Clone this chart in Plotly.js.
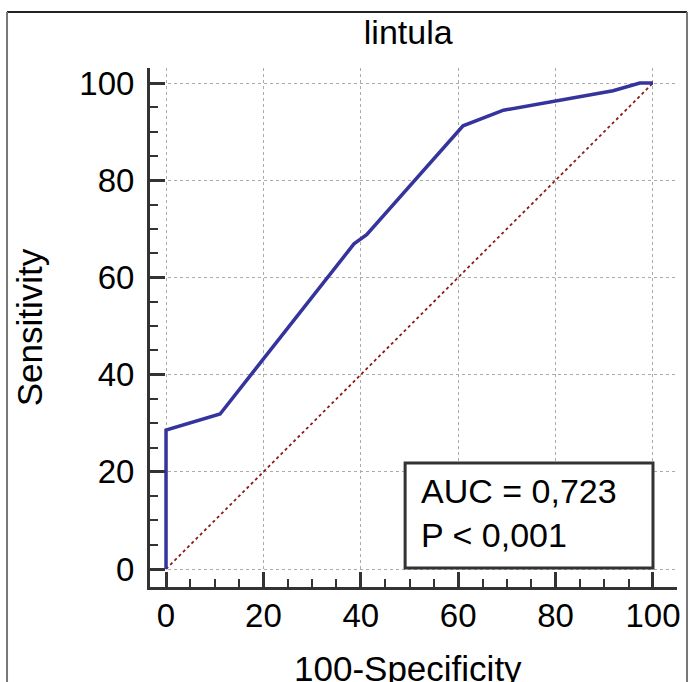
<!DOCTYPE html>
<html>
<head>
<meta charset="utf-8">
<script src="https://cdn.plot.ly/plotly-3.0.1.min.js"></script>
<style>html,body{margin:0;padding:0;background:#fff;}#chart{width:692px;height:682px;}</style>
</head>
<body>
<div id="chart"></div>
<script>
// ROC curve values (100-Specificity, Sensitivity)
var rocX = [0, 0, 11.1, 38.6, 41.2, 61.0, 69.3, 91.8, 97.3, 100];
var rocY = [0, 28.6, 31.9, 66.9, 68.8, 91.2, 94.4, 98.4, 100, 100];
// reference diagonal
var diagX = [0, 100];
var diagY = [0, 100];
var tickVals = [0, 20, 40, 60, 80, 100];
var tickText = ["0", "20", "40", "60", "80", "100"];
var chartTitle = "lintula";
var xTitle = "100-Specificity";
var yTitle = "Sensitivity";
var statLines = ["AUC = 0,723", "P &lt; 0,001"];

var FONT = "Liberation Sans, Arial, sans-serif";

var traces = [
  {x: diagX, y: diagY, mode: "lines", type: "scatter", hoverinfo: "skip",
   line: {color: "#8b1a1a", width: 1.8, dash: "dot"}},
  {x: rocX, y: rocY, mode: "lines", type: "scatter",
   line: {color: "#34349c", width: 3.5}}
];

var axisCommon = {
  showline: true, linecolor: "#333333", linewidth: 3, mirror: false,
  ticks: "inside", ticklen: 15, tickwidth: 3, tickcolor: "#333333",
  tickvals: tickVals, ticktext: tickText,
  tickfont: {family: FONT, size: 33, color: "#000"},
  showgrid: true, gridcolor: "#ababab", gridwidth: 1, griddash: "dot",
  zeroline: false, fixedrange: true,
  minor: {dtick: 5, tick0: 0, ticks: "inside", ticklen: 8, tickwidth: 2, tickcolor: "#333333", showgrid: false}
};

var layout = {
  width: 692, height: 682,
  margin: {l: 150, r: 15, t: 68, b: 95},
  paper_bgcolor: "#fff", plot_bgcolor: "#fff",
  showlegend: false,
  title: {text: chartTitle, font: {family: FONT, size: 34, color: "#000"},
          xref: "paper", x: 0.49, xanchor: "center", yref: "container", y: 0.953, yanchor: "middle"},
  xaxis: Object.assign({}, axisCommon, {
    range: [-3.29, 104.93],
    ticklabelstandoff: -3
  }),
  yaxis: Object.assign({}, axisCommon, {
    range: [-3.70, 103.09],
    ticklabelstandoff: 6,
    title: {text: yTitle, font: {family: FONT, size: 35, color: "#000"}, standoff: 27}
  }),
  shapes: [
    {type: "rect", xref: "x", yref: "y", x0: 49.1, x1: 100, y0: 0.2, y1: 21.8,
     line: {color: "#333333", width: 3}, fillcolor: "#ffffff", layer: "above"},
    {type: "line", xref: "paper", yref: "paper", x0: -0.2713, x1: 1.019, y0: 1.108, y1: 1.108,
     line: {color: "#222222", width: 2}},
    {type: "line", xref: "paper", yref: "paper", x0: -0.2713, x1: -0.2713, y0: 1.108, y1: -0.3,
     line: {color: "#777777", width: 2}},
    {type: "line", xref: "paper", yref: "paper", x0: 1.019, x1: 1.019, y0: 1.108, y1: -0.3,
     line: {color: "#777777", width: 2}}
  ],
  annotations: [
    {xref: "x", yref: "y", x: 52.0, y: 11.6, xanchor: "left", yanchor: "middle", align: "left",
     showarrow: false, text: statLines.join("<br>"),
     font: {family: FONT, size: 34, color: "#000"}},
    {xref: "paper", yref: "paper", x: 0.49, y: -0.1156, xanchor: "center", yanchor: "top",
     showarrow: false, text: xTitle,
     font: {family: FONT, size: 35, color: "#000"}}
  ]
};

Plotly.newPlot("chart", traces, layout, {displayModeBar: false, staticPlot: true});
</script>
</body>
</html>
